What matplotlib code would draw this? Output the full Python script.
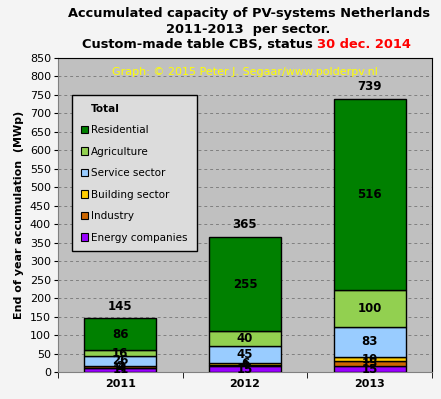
import numpy as np
import matplotlib
matplotlib.use('Agg')
import matplotlib.pyplot as plt
from matplotlib.patches import Patch

# data (MWp, accumulated)
years = ['2011', '2012', '2013']
sectors = ['Energy companies', 'Industry', 'Building sector', 'Service sector', 'Agriculture', 'Residential']
energy = [11, 15, 15]
industry = [4, 4, 15]
building = [2, 6, 10]
service = [26, 45, 83]
agriculture = [16, 40, 100]
residential = [86, 255, 516]
totals = [145, 365, 739]

colors = ['#9900FF', '#CC6600', '#FFCC00', '#99CCFF', '#92D050', '#008000']
series = [energy, industry, building, service, agriculture, residential]

plt.rcParams['font.family'] = 'DejaVu Sans'

fig = plt.figure(figsize=(4.41, 3.99), dpi=100, facecolor='#F4F4F4')
ax = fig.add_axes([58 / 441, 1 - 372 / 399, 374 / 441, 314 / 399])
ax.set_facecolor('#C0C0C0')

x = np.arange(len(years))
bottom = np.zeros(len(years))
for vals, col in zip(series, colors):
    ax.bar(x, vals, width=0.58, bottom=bottom, color=col, edgecolor='black', linewidth=1, zorder=3)
    for xi, b, v in zip(x, bottom, vals):
        ax.text(xi, b + v / 2, str(v), ha='center', va='center', fontsize=8.5,
                fontweight='bold', color='black', zorder=4)
    bottom += np.array(vals)

for xi, t in zip(x, totals):
    ax.text(xi, t + 33, str(t), ha='center', va='center', fontsize=8.5,
            fontweight='bold', color='black', zorder=4)

ax.set_xlim(-0.5, 2.5)
ax.set_ylim(0, 850)
ax.set_yticks(range(0, 851, 50))
ax.set_xticks(x)
ax.set_xticklabels(years, fontsize=8, fontweight='bold')
ax.tick_params(axis='y', labelsize=8, length=3, pad=2)
ax.tick_params(axis='x', length=0, pad=5)
ax.set_xticks([-0.5, 0.5, 1.5, 2.5], minor=True)
ax.tick_params(axis='x', which='minor', length=4)
ax.yaxis.grid(True, linestyle=(0, (3, 3)), color='#808080', linewidth=0.7, zorder=0)
ax.set_ylabel('End of year accumulation  (MWp)', fontsize=8, fontweight='bold', labelpad=4)
for side in ['top', 'right']:
    ax.spines[side].set_color('black')
for side in ['left', 'bottom']:
    ax.spines[side].set_color('#808080')

ax.text(0.5, 0.955, 'Graph: \u00a9 2015 Peter J. Segaar/www.polderpv.nl', transform=ax.transAxes,
        ha='center', va='center', fontsize=8, color='#FFFF00', zorder=5)

# legend: "Total" header then sectors top-down
handles = [Patch(facecolor='none', edgecolor='none', label='Total')]
for name, col in reversed(list(zip(sectors, colors))):
    handles.append(Patch(facecolor=col, edgecolor='black', linewidth=0.8, label=name))
leg = ax.legend(handles=handles, loc='upper left', bbox_to_anchor=(14 / 374, 1 - 37 / 314),
                borderaxespad=0, fontsize=7.5, frameon=True, fancybox=False,
                facecolor='#DCDCDC', edgecolor='black',
                handlelength=0.7, handleheight=0.7, handletextpad=0.3, labelspacing=1.1,
                borderpad=0.85, framealpha=1)
leg.get_frame().set_linewidth(1)
leg.get_texts()[0].set_fontweight('bold')
leg.set_zorder(6)

fig.text(248.5 / 441, 1 - 13 / 399, 'Accumulated capacity of PV-systems Netherlands', ha='center', va='center',
         fontsize=9.4, fontweight='bold')
fig.text(248.5 / 441, 1 - 29 / 399, '2011-2013  per sector.', ha='center', va='center',
         fontsize=9.4, fontweight='bold')
t1 = fig.text(82 / 441, 1 - 45 / 399, 'Custom-made table CBS, status ', ha='left', va='center',
              fontsize=9.4, fontweight='bold')
fig.canvas.draw()
bb = t1.get_window_extent()
fig.text(bb.x1 / fig.bbox.width, 1 - 45 / 399, '30 dec. 2014', ha='left', va='center',
         fontsize=9.4, fontweight='bold', color='#FF0000')

fig.savefig('out.png', dpi=100, facecolor=fig.get_facecolor())
